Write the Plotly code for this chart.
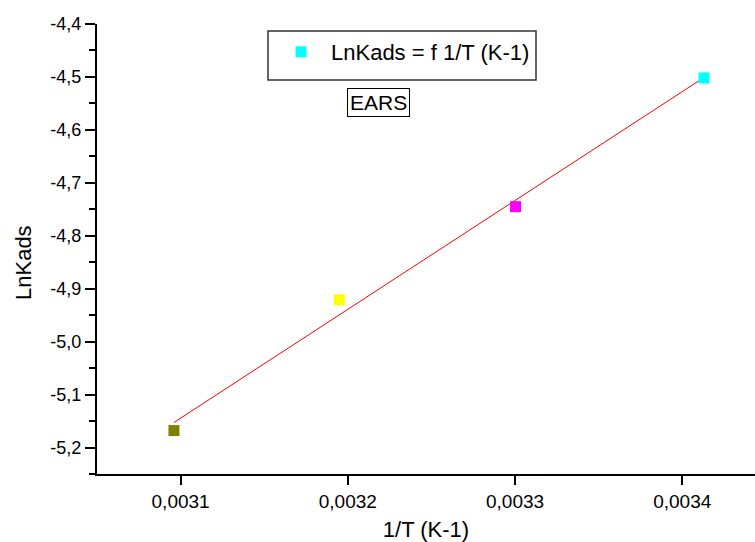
import numpy as np
import plotly.graph_objects as go

# Data
inv_T = [0.003096, 0.0031949, 0.0033003, 0.003413]
ln_kads = [-5.168, -4.921, -4.745, -4.502]
point_colors = ["#808000", "#FFFF00", "#FF00FF", "#00FFFF"]
legend_label = "LnKads = f 1/T (K-1)"
x_title = "1/T (K-1)"
y_title = "LnKads"
note = "EARS"
y_tick_vals = [-4.4, -4.5, -4.6, -4.7, -4.8, -4.9, -5.0, -5.1, -5.2]
y_tick_text = ["-4,4", "-4,5", "-4,6", "-4,7", "-4,8", "-4,9", "-5,0", "-5,1", "-5,2"]
x_tick_vals = [0.0031, 0.0032, 0.0033, 0.0034]
x_tick_text = ["0,0031", "0,0032", "0,0033", "0,0034"]

# Linear fit
slope, intercept = np.polyfit(inv_T, ln_kads, 1)
fit_x = [min(inv_T), max(inv_T)]
fit_y = [slope * v + intercept for v in fit_x]

FONT = "Liberation Sans, Arial, sans-serif"

fig = go.Figure()
fig.add_trace(go.Scatter(
    x=fit_x, y=fit_y, mode="lines",
    line=dict(color="#FF0000", width=1), showlegend=False, hoverinfo="skip"))
fig.add_trace(go.Scatter(
    x=inv_T, y=ln_kads, mode="markers",
    marker=dict(symbol="square", size=11, color=point_colors, line=dict(width=0)),
    showlegend=False))
fig.add_trace(go.Scatter(
    x=[None], y=[None], mode="markers", name=legend_label,
    marker=dict(symbol="square", size=11, color="#00FFFF", line=dict(width=0))))

W, H = 755, 542
L, R, T, B = 97, 0, 24, 68
pw, ph = W - L - R, H - T - B

def px_to_paper_x(px):
    return (px - L) / pw

def px_to_paper_y(py):
    return (H - B - py) / ph

fig.update_layout(
    width=W, height=H,
    margin=dict(l=L, r=R, t=T, b=B, pad=0),
    paper_bgcolor="white", plot_bgcolor="white",
    separators=",.",
    font=dict(family=FONT, color="black", size=18),
    xaxis=dict(
        range=[0.00305, 0.0034435], tickmode="array",
        tickvals=x_tick_vals, ticktext=x_tick_text,
        showgrid=False, zeroline=False,
        showline=True, linecolor="black", linewidth=2,
        ticks="outside", ticklen=9, tickwidth=2, tickcolor="black",
        tickfont=dict(size=19),
        title=dict(text=x_title, font=dict(size=22), standoff=14),
    ),
    yaxis=dict(
        range=[-5.25, -4.4], tickmode="array",
        tickvals=y_tick_vals, ticktext=y_tick_text,
        showgrid=False, zeroline=False,
        showline=True, linecolor="black", linewidth=2,
        ticks="outside", ticklen=10, tickwidth=2, tickcolor="black",
        tickfont=dict(size=18),
        minor=dict(dtick=0.05, tick0=-4.4, ticks="outside", ticklen=6,
                   tickwidth=2, tickcolor="black", showgrid=False),
    ),
    legend=dict(
        x=px_to_paper_x(271), y=px_to_paper_y(31),
        xanchor="left", yanchor="top",
        bgcolor="rgba(0,0,0,0)", borderwidth=0,
        font=dict(size=22), itemwidth=50,
    ),
    shapes=[dict(
        type="rect", xref="paper", yref="paper",
        x0=px_to_paper_x(268), x1=px_to_paper_x(536),
        y0=px_to_paper_y(80), y1=px_to_paper_y(31),
        line=dict(color="#333333", width=1.5), fillcolor="rgba(0,0,0,0)",
        layer="above")],
    annotations=[
        dict(text=note, xref="paper", yref="paper",
             x=px_to_paper_x(378), y=px_to_paper_y(102),
             xanchor="center", yanchor="middle", showarrow=False,
             font=dict(size=21), bordercolor="black", borderwidth=1,
             borderpad=2),
        dict(text=y_title, xref="paper", yref="paper",
             x=px_to_paper_x(23), y=px_to_paper_y(263),
             xanchor="center", yanchor="middle", showarrow=False,
             textangle=-90, font=dict(size=22)),
    ],
)

fig.write_html("out.html")
